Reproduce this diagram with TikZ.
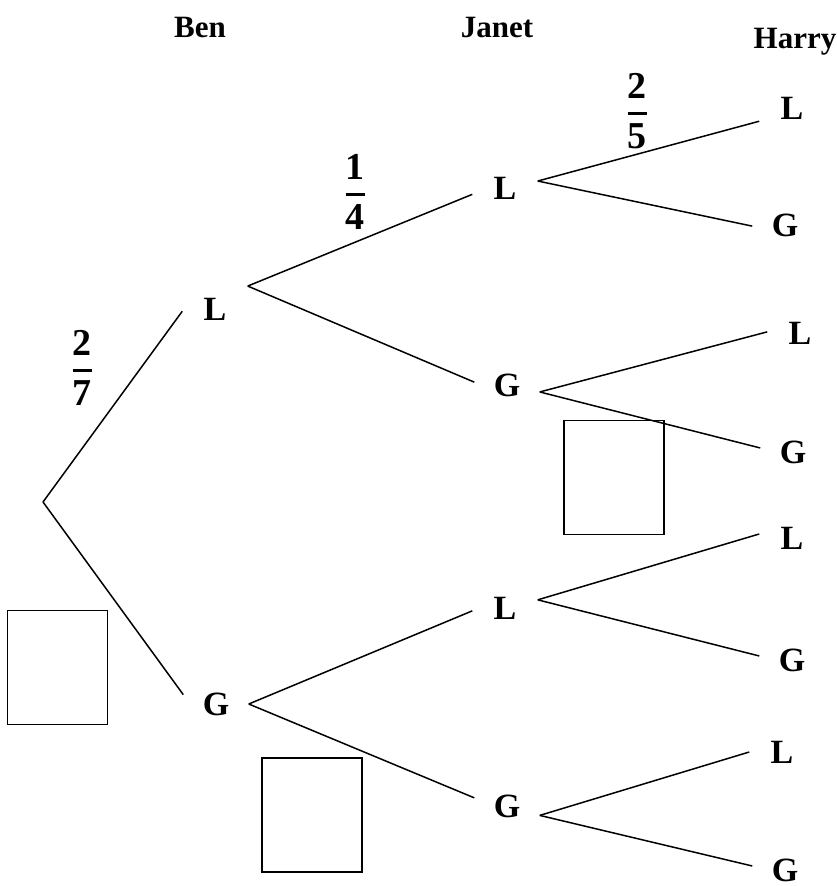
\documentclass[tikz,border=0pt]{standalone}
\usepackage{amsmath}
\usepackage{fontspec}
\setmainfont{Liberation Serif}
\usetikzlibrary{positioning}
\tikzset{
  hdr/.style={font=\fontsize{15.5}{18}\selectfont\bfseries},
  lbl/.style={font=\fontsize{17}{20}\selectfont\bfseries,inner sep=0pt,minimum width=32pt,minimum height=26pt},
  prob/.style={font=\fontsize{19}{22}\selectfont},
  ansbox/.style={draw,line width=0.7pt,inner sep=0pt,minimum width=50pt,minimum height=57pt}
}
\newcommand{\pfrac}[2]{$\genfrac{}{}{1.4pt}{0}{\mathbf{#1}}{\mathbf{#2}}$}

\begin{document}
\begin{tikzpicture}[x=0.5pt,y=-0.5pt,line width=0.75pt]
        \useasboundingbox (0,0) rectangle (836,886);
        \node[hdr] (hBen) at (200,28) {Ben};
        \node[hdr] (hJanet) at (497,28) {Janet};
        \node[hdr] (hHarry) at (795,42) {Harry};
        % Ben and Janet
        \coordinate (root) at (43,502);
        \node[lbl] (bL) at (215,309) {L};
        \node[lbl] (bG) at (216,704) {G};
        \node[lbl] (jLL) at (505,188) {L};
        \node[lbl] (jLG) at (507,385) {G};
        \node[lbl] (jGL) at (505,608) {L};
        \node[lbl] (jGG) at (507,806) {G};
        \draw (root) -- (bL.184);
        \draw (root) -- (bG.164);
        \draw (bL.35) -- (jLL.191);
        \draw (bL.35) -- (jLG.175);
        \draw (bG.0) -- (jGL.185);
        \draw (bG.0) -- (jGG.166);
        % Harry
        \foreach \n/\lab/\x/\y/\p/\ang in {1/L/792/108/jLL.12/202,2/G/785/225/jLL.12/182,3/L/800/333/jLG.348/178,4/G/793/452/jLG.348/173,5/L/792/538/jGL.14/173,6/G/792/660/jGL.14/173,7/L/782/752/jGG.344/180,8/G/785/870/jGG.344/173}{
          \node[lbl] (h\n) at (\x,\y) {\lab};
          \draw (\p) -- (h\n.\ang);
        }
        \node[prob] (pBen) at (82,368) {\pfrac{2}{7}};
        \node[prob] (pJanet) at (355,192) {\pfrac{1}{4}};
        \node[prob] (pHarry) at (637,111) {\pfrac{2}{5}};
        \node[ansbox] (boxBen) at (57.5,667.5) {};
        \node[ansbox] (boxJanet) at (312,815) {};
        \node[ansbox] (boxHarry) at (614,477.5) {};
      \end{tikzpicture}
\end{document}
